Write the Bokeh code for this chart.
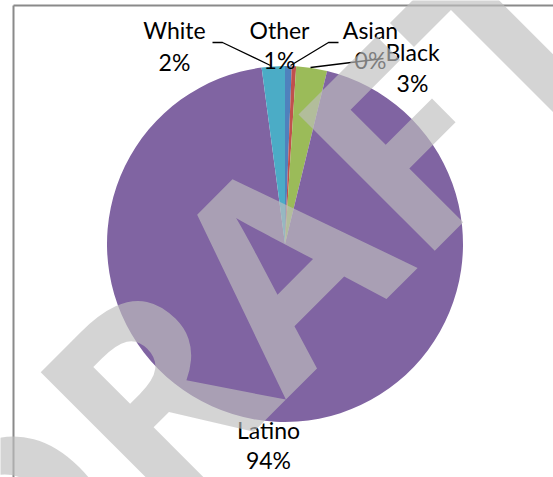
import math
from bokeh.plotting import figure
from bokeh.models import Range1d
from bokeh.embed import file_html
from bokeh.resources import INLINE
from bokeh.core.properties import value

# ---- data ----
categories = ["Other", "Asian", "Black", "Latino", "White"]
shares = [0.6, 0.4, 2.8, 94.1, 2.1]
pct_labels = ["1%", "0%", "3%", "94%", "2%"]
colors = ["#4F81BD", "#C0504D", "#9BBB59", "#8064A2", "#4BACC6"]

# ---- layout (page pixel coordinates) ----
W, H = 553, 477
def X(px):
    return px
def Y(py):
    return H - py

cx, cy, r = 284.5, 243.5, 178
name_pos = {"White": (174, 29), "Other": (279, 29), "Asian": (370, 29),
            "Black": (412, 51), "Latino": (268, 429)}
pct_pos = {"White": (174, 61), "Other": (279, 59), "Asian": (370, 59),
           "Black": (412, 82), "Latino": (268, 459)}
leaders = [
    [(212, 42), (222, 42), (270, 65)],
    [(338, 42), (328, 42), (290, 65)],
    [(310, 67), (383, 58)],
]

p = figure(width=W, height=H, output_backend="svg", toolbar_location=None,
           x_range=Range1d(0, W), y_range=Range1d(0, H), min_border=0)
p.axis.visible = False
p.grid.visible = False
p.outline_line_color = None
p.background_fill_color = "white"
p.border_fill_color = "white"

# pie wedges (clockwise from 12 o'clock)
total = sum(shares)
starts, ends = [], []
acc = 0.0
for s in shares:
    a0 = math.pi / 2 - 2 * math.pi * acc / total
    acc += s
    a1 = math.pi / 2 - 2 * math.pi * acc / total
    starts.append(a0)
    ends.append(a1)

p.wedge(x=[X(cx)] * len(shares), y=[Y(cy)] * len(shares), radius=r,
        start_angle=starts, end_angle=ends, direction="clock",
        fill_color=colors, line_color=None)

# chart frame border (left and top)
p.line(x=[X(13), X(13)], y=[Y(490), Y(5)], line_color="#8a8a8a", line_width=2)
p.line(x=[X(13), X(570)], y=[Y(5), Y(5)], line_color="#8a8a8a", line_width=2)

# leader lines
for pts in leaders:
    p.line(x=[X(a) for a, b in pts], y=[Y(b) for a, b in pts],
           line_color="black", line_width=1.3)

# labels
for cat, pl in zip(categories, pct_labels):
    nx, ny = name_pos[cat]
    px_, py_ = pct_pos[cat]
    p.text(x=[X(nx), X(px_)], y=[Y(ny), Y(py_)], text=[cat, pl],
           text_font=value("Lato"), text_font_size="23px", text_color="black",
           text_align="center", text_baseline="middle")

# DRAFT watermark, rotated 45 degrees
p.text(x=[X(251)], y=[Y(285)], text=["DRAFT"], angle=math.pi / 4,
       text_font=value("Open Sans"), text_font_style="bold",
       text_font_size="270px", text_color="rgb(190,190,190)", text_alpha=0.66,
       text_align="center", text_baseline="middle")

open("out.html", "w").write(file_html(p, INLINE))
